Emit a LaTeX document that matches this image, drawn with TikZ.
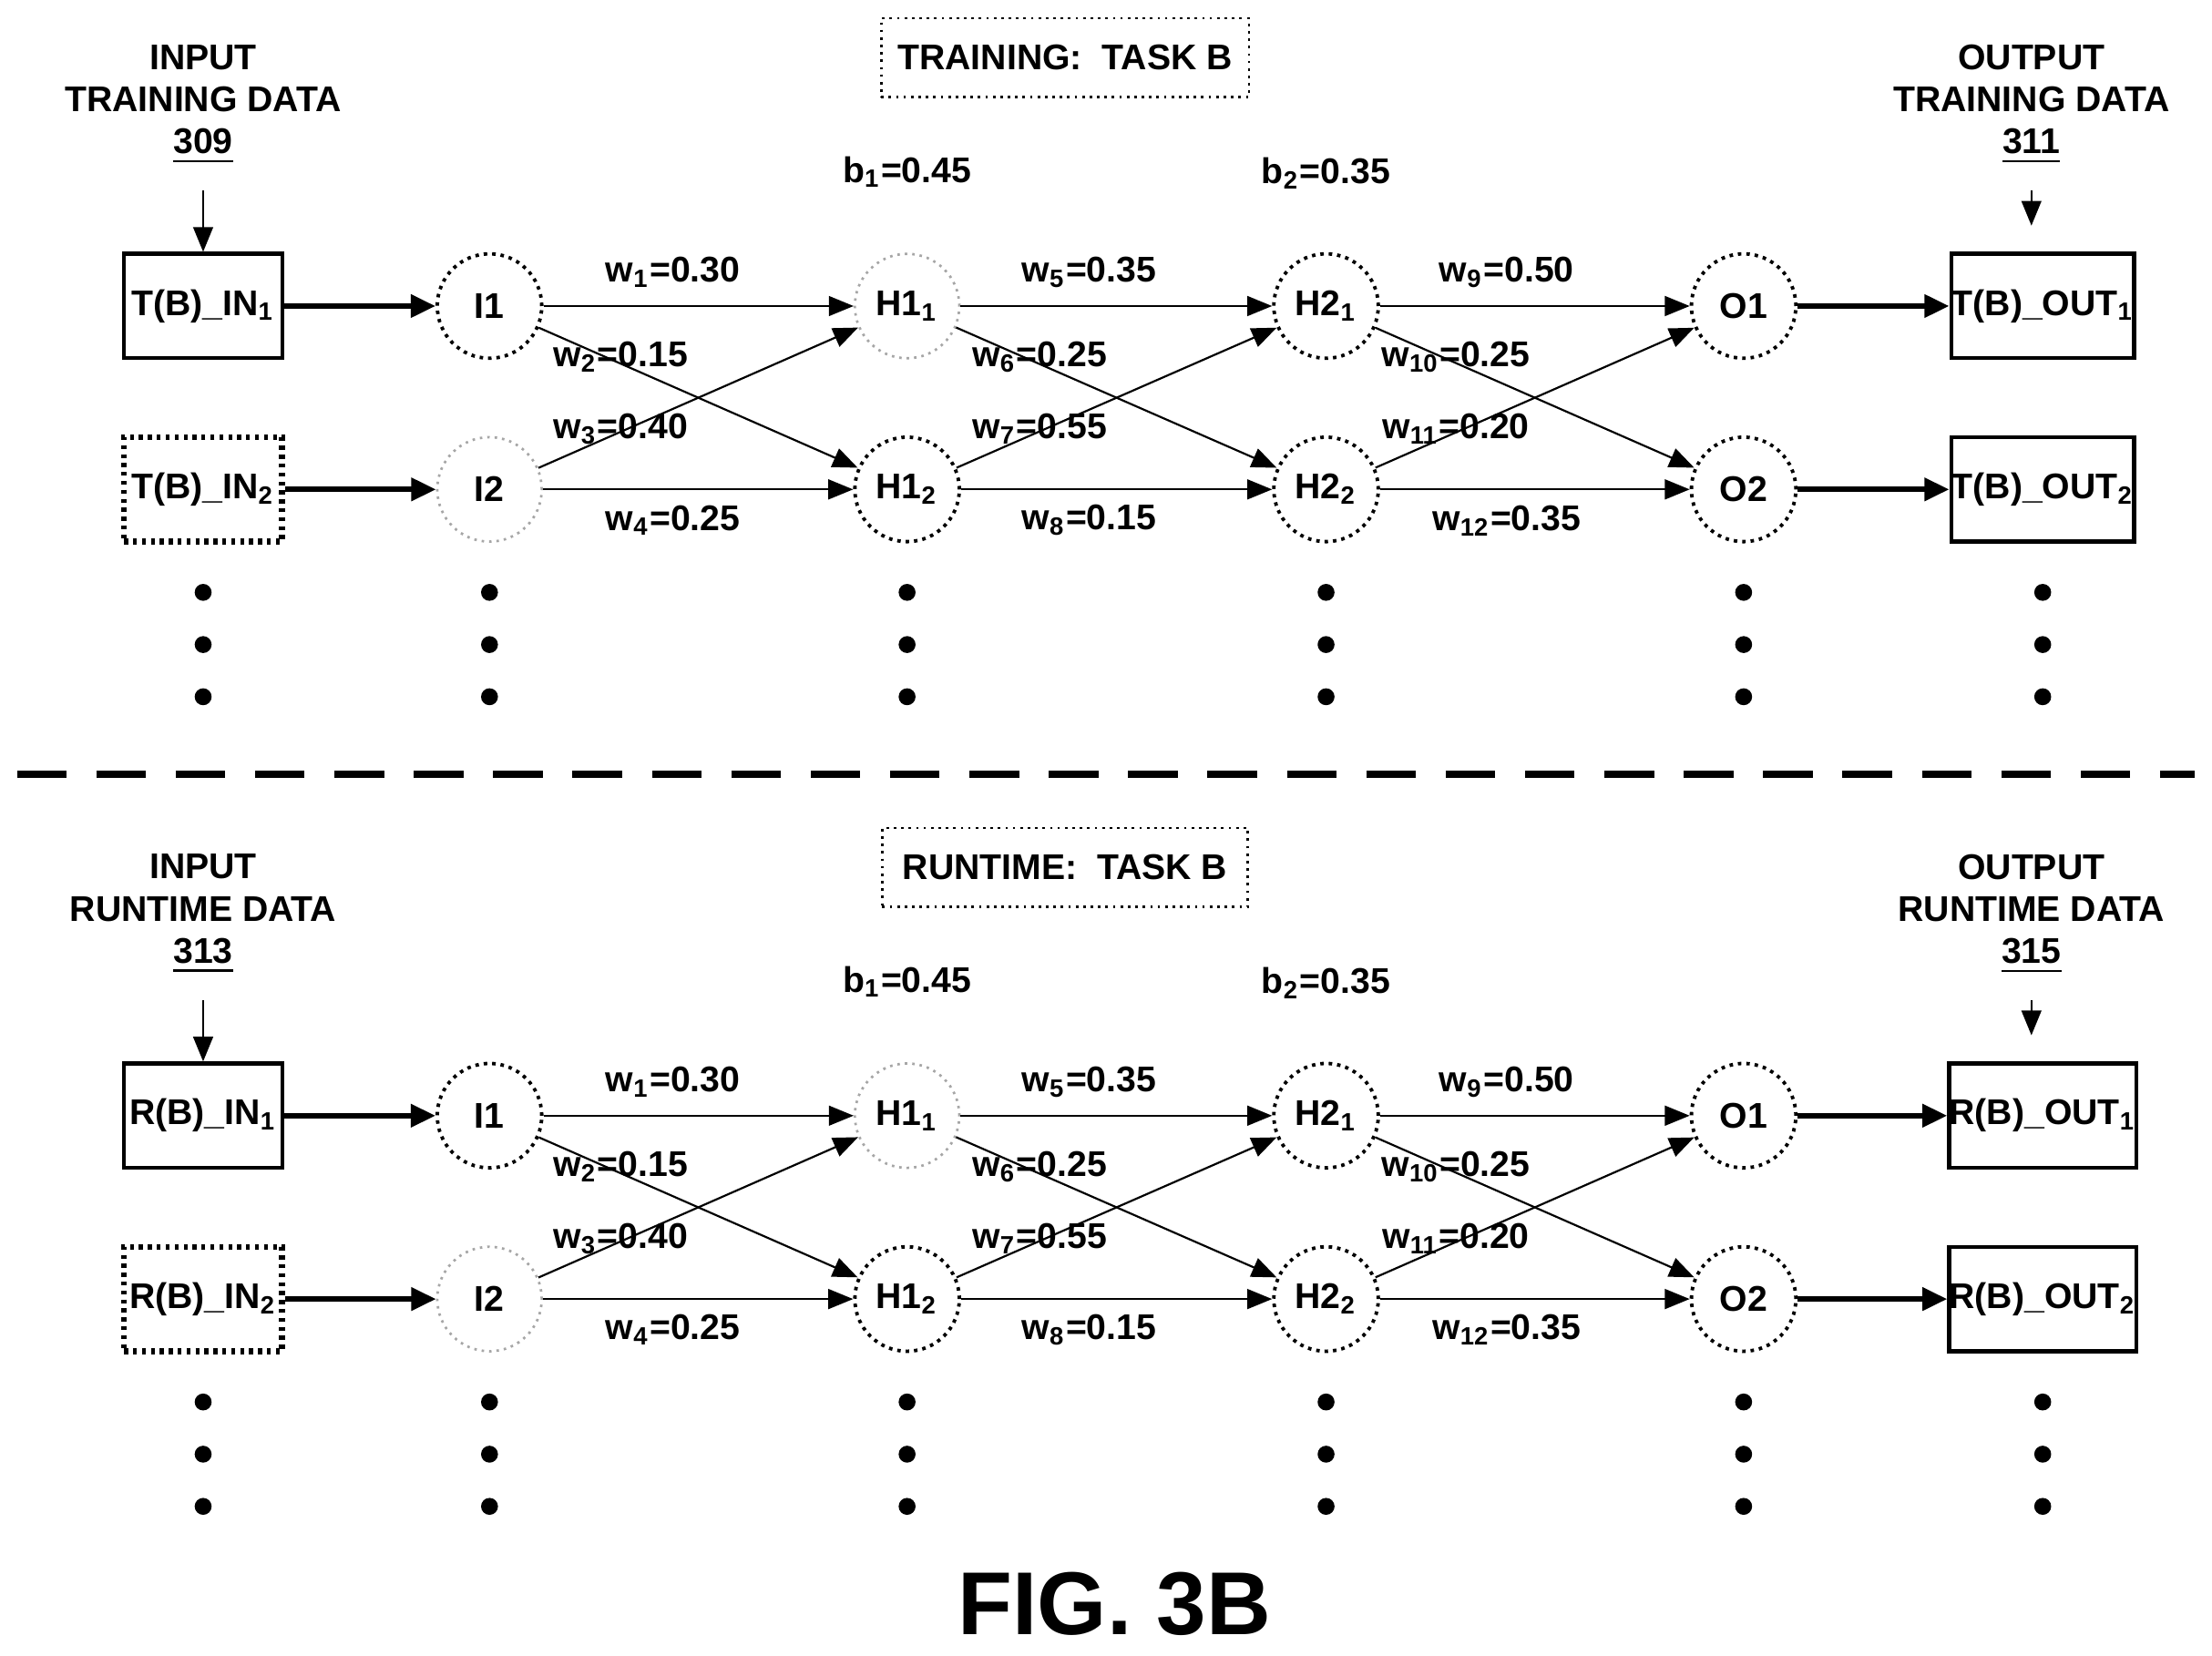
\documentclass[tikz,border=0pt]{standalone}
\usepackage{fontspec}
\setmainfont{Liberation Sans}
\usetikzlibrary{arrows.meta}
\begin{document}
\begin{tikzpicture}[x=0.01cm,y=-0.01cm,
  every node/.style={font=\fontsize{7.2}{8.5}\selectfont\bfseries},
  neu/.style={circle,draw,densely dotted,line width=0.7pt,minimum size=0.74cm,inner sep=0pt},
  lneu/.style={neu,draw=gray!70,line width=0.5pt},
  box/.style={rectangle,draw,line width=0.8pt,minimum width=1.12cm,minimum height=0.74cm,inner sep=0pt},
  dbox/.style={box,densely dotted,line width=1.2pt},
  obox/.style={box,minimum width=1.29cm},
  tbox/.style={rectangle,draw,densely dotted,line width=0.5pt,minimum width=2.59cm,minimum height=0.56cm},
  thk/.style={line width=1.1pt,-{Triangle[length=5pt,width=4.5pt]}},
  thn/.style={line width=0.4pt,-{Triangle[length=5pt,width=4pt]}},
  dot/.style={circle,fill,inner sep=0pt,minimum size=0.12cm}]
\useasboundingbox (0,0) rectangle (1568,1174);
\newcommand\halfnet[8]{%
 \begin{scope}[yshift=#1*-0.01cm]
 \node[tbox] (#2title) at (755,41) {#3};
 \node[align=center] (#2inl) at (144,74) {INPUT\\#4\\\underline{#5}};
 \node[align=center] (#2outl) at (1440,74) {OUTPUT\\#4\\\underline{#6}};
 \coordinate (#2ia) at (144,135); \coordinate (#2oa) at (1440,135);
 \node (#2b1) at (643,122) {b\textsubscript{1}=0.45};
 \node (#2b2) at (940,123) {b\textsubscript{2}=0.35};
 \node[box] (#2in1) at (144,217) {#7(B)\_IN\textsubscript{1}};
 \node[dbox] (#2in2) at (144,347) {#7(B)\_IN\textsubscript{2}};
 \node[obox] (#2out1) at (1448,217) {#7(B)\_OUT\textsubscript{1}};
 \node[obox] (#2out2) at (1448,347) {#7(B)\_OUT\textsubscript{2}};
 \draw[thn] (#2ia) -- (#2in1.north);
 \draw[thn] (#2oa) -- (1440,160);
 \node[neu] (#2I1) at (347,217) {I1};
 \node[lneu] (#2I2) at (347,347) {I2};
 \node[lneu] (#2Ha) at (643,217) {H1\textsubscript{1}};
 \node[neu] (#2Hb) at (643,347) {H1\textsubscript{2}};
 \node[neu] (#2Ka) at (940,217) {H2\textsubscript{1}};
 \node[neu] (#2Kb) at (940,347) {H2\textsubscript{2}};
 \node[neu] (#2Oa) at (1236,217) {O1};
 \node[neu] (#2Ob) at (1236,347) {O2};
 \draw[thk] (#2in1) -- (#2I1); \draw[thk] (#2in2) -- (#2I2);
 \draw[thk] (#2Oa) -- (#2out1); \draw[thk] (#2Ob) -- (#2out2);
 \foreach \a/\b in {I1/Ha,I1/Hb,I2/Ha,I2/Hb,Ha/Ka,Ha/Kb,Hb/Ka,Hb/Kb,Ka/Oa,Ka/Ob,Kb/Oa,Kb/Ob}
   \draw[thn] (#2\a) -- (#2\b);
 \node (#2w1) at (477,193) {w\textsubscript{1}=0.30};
 \node (#2w2) at (440,253) {w\textsubscript{2}=0.15};
 \node (#2w3) at (440,304) {w\textsubscript{3}=0.40};
 \node (#2w4) at (477,369) {w\textsubscript{4}=0.25};
 \node (#2w5) at (772,193) {w\textsubscript{5}=0.35};
 \node (#2w6) at (737,253) {w\textsubscript{6}=0.25};
 \node (#2w7) at (737,304) {w\textsubscript{7}=0.55};
 \node (#2w8) at (772,369) {w\textsubscript{8}=0.15};
 \node (#2w9) at (1068,193) {w\textsubscript{9}=0.50};
 \node (#2w10) at (1032,253) {w\textsubscript{10}=0.25};
 \node (#2w11) at (1032,304) {w\textsubscript{11}=0.20};
 \node (#2w12) at (1068,369) {w\textsubscript{12}=0.35};
 \foreach \x/\n in {144/a,347/b,643/c,940/d,1236/e,1448/f}
   \foreach \y/\m in {420/1,457/2,494/3}
     \node[dot] (#2d\n\m) at (\x,\y) {};
 \end{scope}}
\halfnet{0}{t}{TRAINING:\ \ TASK B}{TRAINING DATA}{309}{311}{T}{}
\halfnet{574}{r}{RUNTIME:\ \ TASK B}{RUNTIME DATA}{313}{315}{R}{}
\coordinate (dl) at (12,549); \coordinate (dr) at (1556,549);
\draw[line width=1.4pt,dash pattern=on 10pt off 6pt] (dl) -- (dr);
\node[font=\fontsize{18}{20}\selectfont\bfseries] (fig) at (790,1137) {FIG. 3B};
\end{tikzpicture}
\end{document}
